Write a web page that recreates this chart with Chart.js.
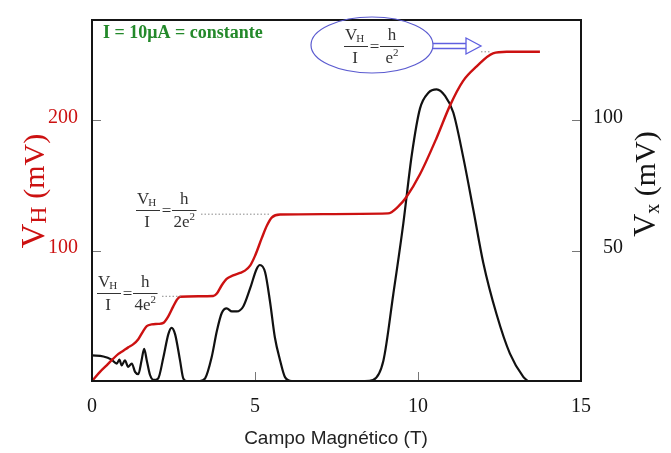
<!DOCTYPE html>
<html><head><meta charset="utf-8">
<script src="https://cdn.jsdelivr.net/npm/chart.js@4.4.1/dist/chart.umd.min.js"></script>
<style>html,body{margin:0;padding:0;background:#fff}#wrap{width:671px;height:453px;position:relative}</style>
</head><body><div id="wrap"><canvas id="c" width="671" height="453"></canvas></div>
<script>
// Hall voltage V_H (mV, left axis) vs field (T)
const fieldVH = [0,0.245,0.45,0.65,0.81,0.96,1.11,1.27,1.42,1.57,1.68,1.83,2.03,2.19,2.34,2.49,2.60,2.70,3.72,3.83,3.98,4.13,4.33,4.54,4.69,4.85,5.00,5.21,5.37,5.52,5.77,9.08,9.39,9.65,10.06,10.57,10.98,11.38,11.80,12.30,12.72,13.74];
const hallVH = [0,7.0,12.0,17.1,20.8,23.3,25.8,28.3,32.1,38.3,42.1,43.4,43.8,44.6,49.6,57.1,62.2,64.7,65.2,67.1,73.5,78.4,81.0,82.9,84.7,88.5,96.0,109.8,119.5,125.6,127.8,128.6,133.8,141.4,158.6,186.5,211.3,230.1,241.4,251.4,252.6,252.6];
// Longitudinal voltage V_x (mV, right axis)
const fieldVX = [0,0.35,0.60,0.76,0.84,0.91,1.01,1.11,1.22,1.32,1.42,1.52,1.60,1.68,1.78,1.90,2.03,2.19,2.34,2.44,2.55,2.70,2.80,2.90,3.31,3.47,3.67,3.83,3.98,4.13,4.29,4.44,4.64,4.85,5.05,5.15,5.31,5.46,5.61,5.77,5.92,6.13,8.37,8.62,8.94,9.24,9.55,9.81,10.06,10.32,10.57,10.83,11.08,11.39,11.70,12.00,12.41,12.82,13.23,13.37];
const longVX = [9.8,9.4,8.2,6.7,8.2,6.0,7.9,5.4,6.7,3.5,2.6,7.9,12.3,7.9,2.3,0.4,1.0,9.1,17.9,20.4,17.9,7.9,1.0,0,0,1.0,9.1,19.2,26.1,27.9,26.7,26.7,28.6,35.5,43.0,44.5,41.7,30.5,16.7,7.9,1.5,0,0,0.4,7.9,33.1,60.5,86.8,104.5,110.6,111.9,109.4,103.1,85.7,65.5,45.5,25.6,10.5,1.6,0];
const xTicks = [0,5,10,15];
const leftTicks = [100,200];
const rightTicks = [50,100];
// plateau levels referenced by annotations (mV)
const plateauH4 = 65, plateauH2 = 128, plateauH1 = 252.6;

const RED = '#cc1111';
const SERIF = '"Liberation Serif", "Times New Roman", serif';

function rich(ctx, parts, cx, cy, rot, color) {
  ctx.save(); ctx.translate(cx, cy); ctx.rotate(rot);
  ctx.fillStyle = color; ctx.textBaseline = 'alphabetic'; ctx.textAlign = 'left';
  let total = 0;
  parts.forEach(p => { ctx.font = p.size + 'px ' + SERIF; p.w = ctx.measureText(p.t).width; total += p.w; });
  let x = -total / 2;
  parts.forEach(p => { ctx.font = p.size + 'px ' + SERIF; ctx.fillText(p.t, x, 10 + (p.dy || 0)); x += p.w; });
  ctx.restore();
}

function formula(ctx, x0, barY, den) {
  ctx.save();
  ctx.fillStyle = '#333'; ctx.strokeStyle = '#333'; ctx.lineWidth = 1;
  ctx.textBaseline = 'alphabetic';
  ctx.font = '17px ' + SERIF; ctx.textAlign = 'left';
  ctx.fillText('V', x0, barY - 6);
  const vw = ctx.measureText('V').width;
  ctx.font = '11px ' + SERIF;
  ctx.fillText('H', x0 + vw - 1, barY - 4);
  ctx.beginPath(); ctx.moveTo(x0 - 1, barY + 0.5); ctx.lineTo(x0 + 23, barY + 0.5); ctx.stroke();
  ctx.font = '17px ' + SERIF; ctx.textAlign = 'center';
  ctx.fillText('I', x0 + 10, barY + 17);
  ctx.fillText('=', x0 + 29.5, barY + 6);
  ctx.textAlign = 'left';
  const main = den + 'e';
  const mw = ctx.measureText(main).width;
  ctx.font = '11px ' + SERIF; const sw = ctx.measureText('2').width;
  const w = Math.max(mw + sw, 21) + 3;
  const bx = x0 + 35;
  const cx = bx + w / 2;
  ctx.beginPath(); ctx.moveTo(bx, barY + 0.5); ctx.lineTo(bx + w, barY + 0.5); ctx.stroke();
  ctx.font = '17px ' + SERIF; ctx.textAlign = 'center';
  ctx.fillText('h', cx, barY - 6);
  ctx.textAlign = 'left';
  const sx = cx - (mw + sw) / 2;
  ctx.fillText(main, sx, barY + 17);
  ctx.font = '11px ' + SERIF;
  ctx.fillText('2', sx + mw, barY + 10);
  ctx.restore();
}

function dotted(ctx, x1, x2, y) {
  ctx.save(); ctx.strokeStyle = '#8a8a8a'; ctx.lineWidth = 1; ctx.setLineDash([1.5, 2]);
  ctx.beginPath(); ctx.moveTo(x1, y); ctx.lineTo(x2, y); ctx.stroke(); ctx.restore();
}

const decor = {
  id: 'decor',
  afterDraw(chart) {
    const ctx = chart.ctx, a = chart.chartArea;
    const sx = chart.scales.x, sy = chart.scales.y, sy1 = chart.scales.y1;
    ctx.save();
    // inward ticks
    ctx.strokeStyle = '#777'; ctx.lineWidth = 1;
    leftTicks.forEach(v => { const y = Math.round(sy.getPixelForValue(v)) + 0.5; ctx.beginPath(); ctx.moveTo(a.left, y); ctx.lineTo(a.left + 9, y); ctx.stroke(); });
    rightTicks.forEach(v => { const y = Math.round(sy1.getPixelForValue(v)) + 0.5; ctx.beginPath(); ctx.moveTo(a.right, y); ctx.lineTo(a.right - 9, y); ctx.stroke(); });
    [5, 10].forEach(v => { const x = Math.round(sx.getPixelForValue(v)) + 0.5; ctx.beginPath(); ctx.moveTo(x, a.bottom); ctx.lineTo(x, a.bottom - 9); ctx.stroke(); });
    // frame
    ctx.strokeStyle = '#151515'; ctx.lineWidth = 2;
    ctx.strokeRect(a.left, a.top, a.right - a.left, a.bottom - a.top);
    // axis titles
    rich(ctx, [{t: 'V', size: 34}, {t: 'H', size: 24, dy: 2}, {t: ' (mV)', size: 30}], 34, 191, -Math.PI / 2, RED);
    rich(ctx, [{t: 'V', size: 32}, {t: 'x', size: 20, dy: 4}, {t: ' (mV)', size: 30}], 645, 184, -Math.PI / 2, '#151515');
    ctx.fillStyle = '#222'; ctx.font = '19px "Liberation Sans", Arial, sans-serif';
    ctx.textAlign = 'center'; ctx.textBaseline = 'middle';
    ctx.fillText('Campo Magnético (T)', 336, 439);
    // green label
    ctx.fillStyle = '#23892a'; ctx.font = 'bold 18px ' + SERIF; ctx.textAlign = 'left';
    ctx.fillText('I = 10\u03bcA = constante', 103, 33);
    // leader lines to plateaus
    const y4 = sy.getPixelForValue(plateauH4), y2 = sy.getPixelForValue(plateauH2), y1 = sy.getPixelForValue(plateauH1);
    dotted(ctx, 162, sx.getPixelForValue(2.72), y4);
    dotted(ctx, 201, sx.getPixelForValue(5.45), y2);
    dotted(ctx, 481, sx.getPixelForValue(12.2), y1);
    // formulas
    formula(ctx, 98, 293, '4');
    formula(ctx, 137, 210, '2');
    formula(ctx, 345, 46, '');
    // ellipse
    ctx.strokeStyle = '#5b5bd0'; ctx.lineWidth = 1.2;
    ctx.beginPath(); ctx.ellipse(372, 45, 61, 28, 0, 0, Math.PI * 2); ctx.stroke();
    // hollow arrow
    ctx.strokeStyle = '#5f5fe0'; ctx.lineWidth = 1.3;
    ctx.beginPath(); ctx.moveTo(433, 43.5); ctx.lineTo(466, 43.5); ctx.moveTo(433, 48.5); ctx.lineTo(466, 48.5); ctx.stroke();
    ctx.beginPath(); ctx.moveTo(466, 38); ctx.lineTo(481, 46); ctx.lineTo(466, 54); ctx.closePath();
    ctx.fillStyle = '#fff'; ctx.fill(); ctx.stroke();
    ctx.restore();
  }
};

const pts = (xs, ys) => xs.map((x, i) => ({x, y: ys[i]}));

new Chart(document.getElementById('c'), {
  type: 'line',
  data: {
    datasets: [
      {label: 'VH', data: pts(fieldVH, hallVH), yAxisID: 'y', borderColor: RED, borderWidth: 2.4, pointRadius: 0, cubicInterpolationMode: 'monotone', fill: false},
      {label: 'Vx', data: pts(fieldVX, longVX), yAxisID: 'y1', borderColor: '#111', borderWidth: 2.2, pointRadius: 0, cubicInterpolationMode: 'monotone', fill: false}
    ]
  },
  options: {
    responsive: false, animation: false, devicePixelRatio: 1,
    layout: {padding: {top: 12, right: 48, left: 0, bottom: 0}},
    plugins: {legend: {display: false}, tooltip: {enabled: false}},
    scales: {
      x: {type: 'linear', position: 'bottom', min: 0, max: 15,
          grid: {display: false}, border: {display: false},
          afterBuildTicks: s => { s.ticks = xTicks.map(v => ({value: v})); },
          afterFit: s => { s.height = 72; },
          ticks: {color: '#151515', font: {family: SERIF, size: 20}, padding: 6, maxRotation: 0, autoSkip: false}},
      y: {type: 'linear', position: 'left', min: 0, max: 277,
          grid: {display: false}, border: {display: false},
          afterBuildTicks: s => { s.ticks = leftTicks.map(v => ({value: v})); },
          afterFit: s => { s.width = 92; },
          ticks: {color: RED, font: {family: SERIF, size: 20}, padding: 6, labelOffset: -3}},
      y1: {type: 'linear', position: 'right', min: 0, max: 138.5,
          grid: {display: false}, border: {display: false},
          afterBuildTicks: s => { s.ticks = rightTicks.map(v => ({value: v})); },
          afterFit: s => { s.width = 42; },
          ticks: {color: '#151515', font: {family: SERIF, size: 20}, padding: 8, crossAlign: 'far', labelOffset: -3}}
    }
  },
  plugins: [decor]
});
</script></body></html>
